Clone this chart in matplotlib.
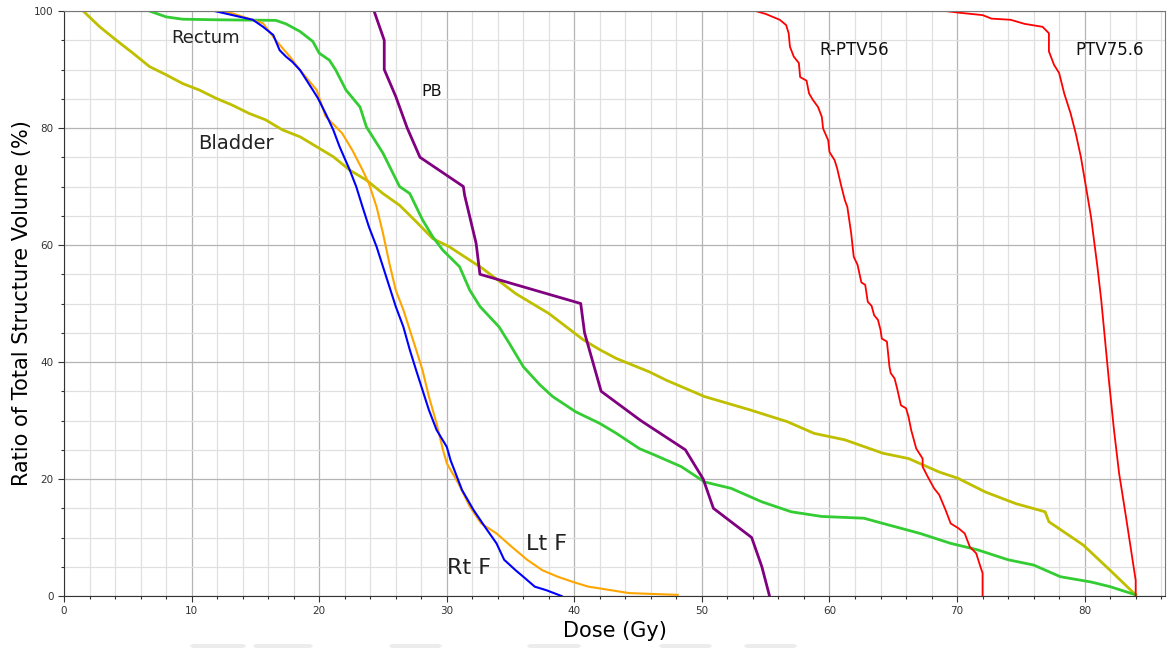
import matplotlib
matplotlib.use("Agg")
import matplotlib.pyplot as plt
from matplotlib.ticker import MultipleLocator
from matplotlib.patches import FancyBboxPatch

# Cumulative dose-volume histograms (dose in Gy, volume in %)
bladder_dose = [1.5, 2.8, 4.1, 5.4, 6.7, 8.0, 9.3, 10.6, 11.9, 13.2, 14.5, 15.8, 17.1, 18.5,
                19.8, 21.1, 22.4, 23.7, 25.0, 26.3, 27.6, 28.9, 30.2, 32.8, 35.4, 38.0, 40.7,
                42.0, 43.3, 45.9, 47.2, 50.2, 53.8, 56.7, 58.8, 61.2, 64.2, 66.2, 68.6, 70.1,
                72.2, 74.6, 76.9, 77.2, 79.9, 82.0, 84.0]
bladder_vol = [100, 97.3, 95.0, 92.8, 90.5, 89.1, 87.6, 86.5, 85.1, 83.9, 82.5, 81.4, 79.7, 78.5,
               76.8, 75.1, 72.8, 71.1, 68.8, 66.8, 64.0, 61.1, 59.7, 56.0, 51.7, 48.3, 43.8,
               42.1, 40.6, 38.3, 36.9, 34.1, 31.8, 29.8, 27.8, 26.7, 24.4, 23.5, 21.2, 20.1,
               17.8, 15.8, 14.4, 12.7, 8.7, 4.4, 0.2]

rectum_dose = [6.7, 8.0, 9.3, 12.0, 16.6, 17.4, 18.5, 19.5, 20.0, 20.8, 21.3, 22.1, 23.2, 23.7,
               25.0, 26.3, 27.1, 28.1, 28.9, 29.7, 31.0, 31.8, 32.6, 34.1, 34.9, 36.0, 37.3,
               38.3, 40.1, 42.0, 43.3, 45.1, 46.3, 48.4, 50.2, 52.3, 54.7, 57.0, 59.4, 62.7,
               64.2, 67.1, 69.5, 71.6, 74.0, 76.0, 78.1, 80.5, 82.0, 84.0]
rectum_vol = [100, 99.0, 98.6, 98.5, 98.4, 97.8, 96.5, 94.8, 92.8, 91.6, 89.9, 86.5, 83.6, 80.2,
              75.7, 70.0, 68.8, 64.3, 61.4, 59.1, 56.3, 52.3, 49.5, 46.0, 43.2, 39.2, 36.1,
              34.1, 31.5, 29.5, 27.8, 25.2, 24.1, 22.1, 19.5, 18.4, 16.1, 14.4, 13.6, 13.3,
              12.4, 10.7, 9.0, 7.9, 6.2, 5.3, 3.3, 2.4, 1.6, 0.2]

pb_dose = [24.3, 25.1, 25.1, 26.0, 26.9, 27.9, 31.3, 31.4, 32.3, 32.6, 40.5, 40.8, 42.1, 45.2,
           48.7, 50.1, 50.9, 53.9, 54.7, 55.3]
pb_vol = [100, 95.0, 90.0, 85.4, 80.0, 75.0, 70.0, 68.5, 60.3, 55.0, 50.0, 45.0, 35.0, 30.0,
          25.0, 20.0, 15.0, 10.0, 5.0, 0.0]

rtf_dose = [11.8, 13.2, 14.8, 15.6, 16.4, 16.9, 17.4, 17.9, 18.5, 19.0, 19.5, 19.9, 20.5, 21.1,
            21.6, 22.4, 22.9, 23.4, 23.9, 24.5, 25.0, 25.5, 26.0, 26.6, 27.1, 27.6, 28.1, 28.6,
            29.2, 30.0, 30.3, 31.2, 32.1, 33.0, 33.9, 34.5, 35.4, 36.0, 36.9, 37.8, 39.0]
rtf_vol = [100, 99.3, 98.5, 97.3, 95.9, 93.3, 92.2, 91.3, 89.9, 88.2, 86.5, 85.1, 82.5, 79.7,
           76.8, 72.8, 70.0, 66.5, 63.1, 59.7, 56.3, 52.9, 49.5, 46.0, 42.1, 38.6, 35.2, 31.8,
           28.4, 25.5, 23.2, 18.1, 14.7, 11.8, 9.0, 6.2, 4.4, 3.3, 1.6, 1.0, 0.0]

ltf_dose = [12.2, 13.2, 15.6, 16.6, 17.7, 18.5, 19.8, 20.5, 21.8, 22.6, 23.4, 23.9, 24.5, 25.0,
            25.5, 26.0, 26.6, 27.1, 27.6, 28.1, 28.6, 29.2, 29.7, 30.0, 30.9, 31.8, 32.7, 33.9,
            35.1, 36.3, 37.5, 38.7, 39.9, 41.1, 42.0, 44.3, 48.1]
ltf_vol = [100, 99.6, 97.9, 95.0, 92.2, 89.9, 86.5, 82.0, 79.1, 76.2, 72.8, 70.5, 66.5, 62.0,
           56.9, 52.3, 48.9, 45.5, 42.1, 38.6, 34.1, 29.5, 25.0, 22.7, 19.3, 15.3, 12.4, 10.7,
           8.4, 6.2, 4.4, 3.3, 2.4, 1.6, 1.3, 0.5, 0.2]

rptv56_dose = [54.2, 55.0, 56.1, 56.6, 56.8, 56.9, 57.2, 57.6, 57.7, 58.2, 58.4, 58.7, 59.1, 59.4,
               59.5, 59.9, 60.0, 60.4, 60.6, 60.9, 61.2, 61.4, 61.7, 61.9, 62.2, 62.5, 62.8,
               63.0, 63.3, 63.5, 63.8, 64.0, 64.1, 64.5, 64.7, 64.8, 65.1, 65.3, 65.6, 66.0,
               66.2, 66.4, 66.8, 67.3, 67.3, 67.7, 68.2, 68.6, 69.1, 69.5, 70.1, 70.6, 71.0,
               71.5, 71.7, 72.0, 72.0]
rptv56_vol = [100, 99.5, 98.5, 97.6, 96.2, 93.9, 92.2, 91.1, 88.7, 88.1, 85.9, 84.8, 83.6, 81.9,
              79.9, 77.9, 75.9, 74.5, 73.1, 70.3, 67.7, 66.5, 62.0, 58.0, 56.6, 53.6, 53.2,
              50.3, 49.6, 48.0, 47.2, 45.5, 44.0, 43.5, 39.2, 38.1, 37.2, 35.5, 32.6, 32.1,
              30.6, 28.4, 25.2, 23.5, 22.1, 20.4, 18.4, 17.3, 14.7, 12.4, 11.6, 10.7, 8.4,
              7.3, 5.9, 3.9, 0.0]

ptv756_dose = [69.1, 70.2, 72.0, 72.7, 74.2, 75.3, 76.7, 77.2, 77.2, 77.6, 78.0, 78.4, 78.9,
               79.3, 79.7, 80.1, 80.5, 80.8, 81.0, 81.3, 81.9, 82.3, 82.7, 83.2, 83.6, 84.0, 84.0]
ptv756_vol = [100, 99.7, 99.3, 98.7, 98.5, 97.8, 97.3, 96.2, 93.1, 90.8, 89.4, 85.9, 82.5,
              79.1, 75.1, 70.0, 64.8, 59.7, 56.3, 50.6, 36.9, 28.4, 21.0, 14.1, 8.4, 2.7, 0.0]

fig = plt.figure(figsize=(11.75, 6.48), dpi=100)
ax = fig.add_axes([0.0545, 0.0802, 0.9370, 0.9028])

ax.plot(bladder_dose, bladder_vol, color="#bfbf00", lw=2.0)
ax.plot(rectum_dose, rectum_vol, color="#33cc33", lw=2.0)
ax.plot(ltf_dose, ltf_vol, color="#ffa500", lw=1.5)
ax.plot(rtf_dose, rtf_vol, color="#0000ff", lw=1.5)
ax.plot(pb_dose, pb_vol, color="#800080", lw=2.0)
ax.plot(rptv56_dose, rptv56_vol, color="#ff0000", lw=1.3)
ax.plot(ptv756_dose, ptv756_vol, color="#ff0000", lw=1.3)

ax.set_xlim(0, 86.3)
ax.set_ylim(0, 100)
ax.xaxis.set_major_locator(MultipleLocator(10))
ax.xaxis.set_minor_locator(MultipleLocator(2))
ax.yaxis.set_major_locator(MultipleLocator(20))
ax.yaxis.set_minor_locator(MultipleLocator(5))
ax.grid(which="major", color="#b4b4b4", lw=0.9)
ax.grid(which="minor", color="#e0e0e0", lw=0.9)
ax.set_axisbelow(True)

ax.tick_params(which="major", length=4, width=0.8, labelsize=7.5, colors="#333333")
ax.tick_params(which="minor", length=2.5, width=0.8, colors="#333333")
for side in ("left", "bottom"):
    ax.spines[side].set_color("#333333")
for side in ("top", "right"):
    ax.spines[side].set_color("#777777")

ax.set_xlabel("Dose (Gy)", fontsize=15, labelpad=3)
ax.set_ylabel("Ratio of Total Structure Volume (%)", fontsize=15, labelpad=1.5)

# Structure names placed next to their curves
ax.text(8.4, 95.4, "Rectum", fontsize=13, va="center", color="#222222")
ax.text(10.5, 77.3, "Bladder", fontsize=14, va="center", color="#222222")
ax.text(28.0, 86.2, "PB", fontsize=11.5, va="center", color="#111111")
ax.text(59.2, 93.3, "R-PTV56", fontsize=12, va="center", color="#111111")
ax.text(79.3, 93.3, "PTV75.6", fontsize=12, va="center", color="#111111")
ax.text(36.2, 8.9, "Lt F", fontsize=16, va="center", color="#222222")
ax.text(30.0, 4.8, "Rt F", fontsize=16, va="center", color="#222222")

# faint rounded strips along the lower edge of the canvas
W, H = 1175.0, 648.0
for x0, x1 in [(190, 246), (253, 313), (389, 442), (527, 581), (659, 712), (744, 797)]:
    fig.patches.append(FancyBboxPatch((x0 / W, 0.0), (x1 - x0) / W, 4 / H,
                                      boxstyle="round,pad=0,rounding_size=0.004",
                                      transform=fig.transFigure, facecolor="#ececec",
                                      edgecolor="none"))

fig.savefig("out.png", dpi=100)
